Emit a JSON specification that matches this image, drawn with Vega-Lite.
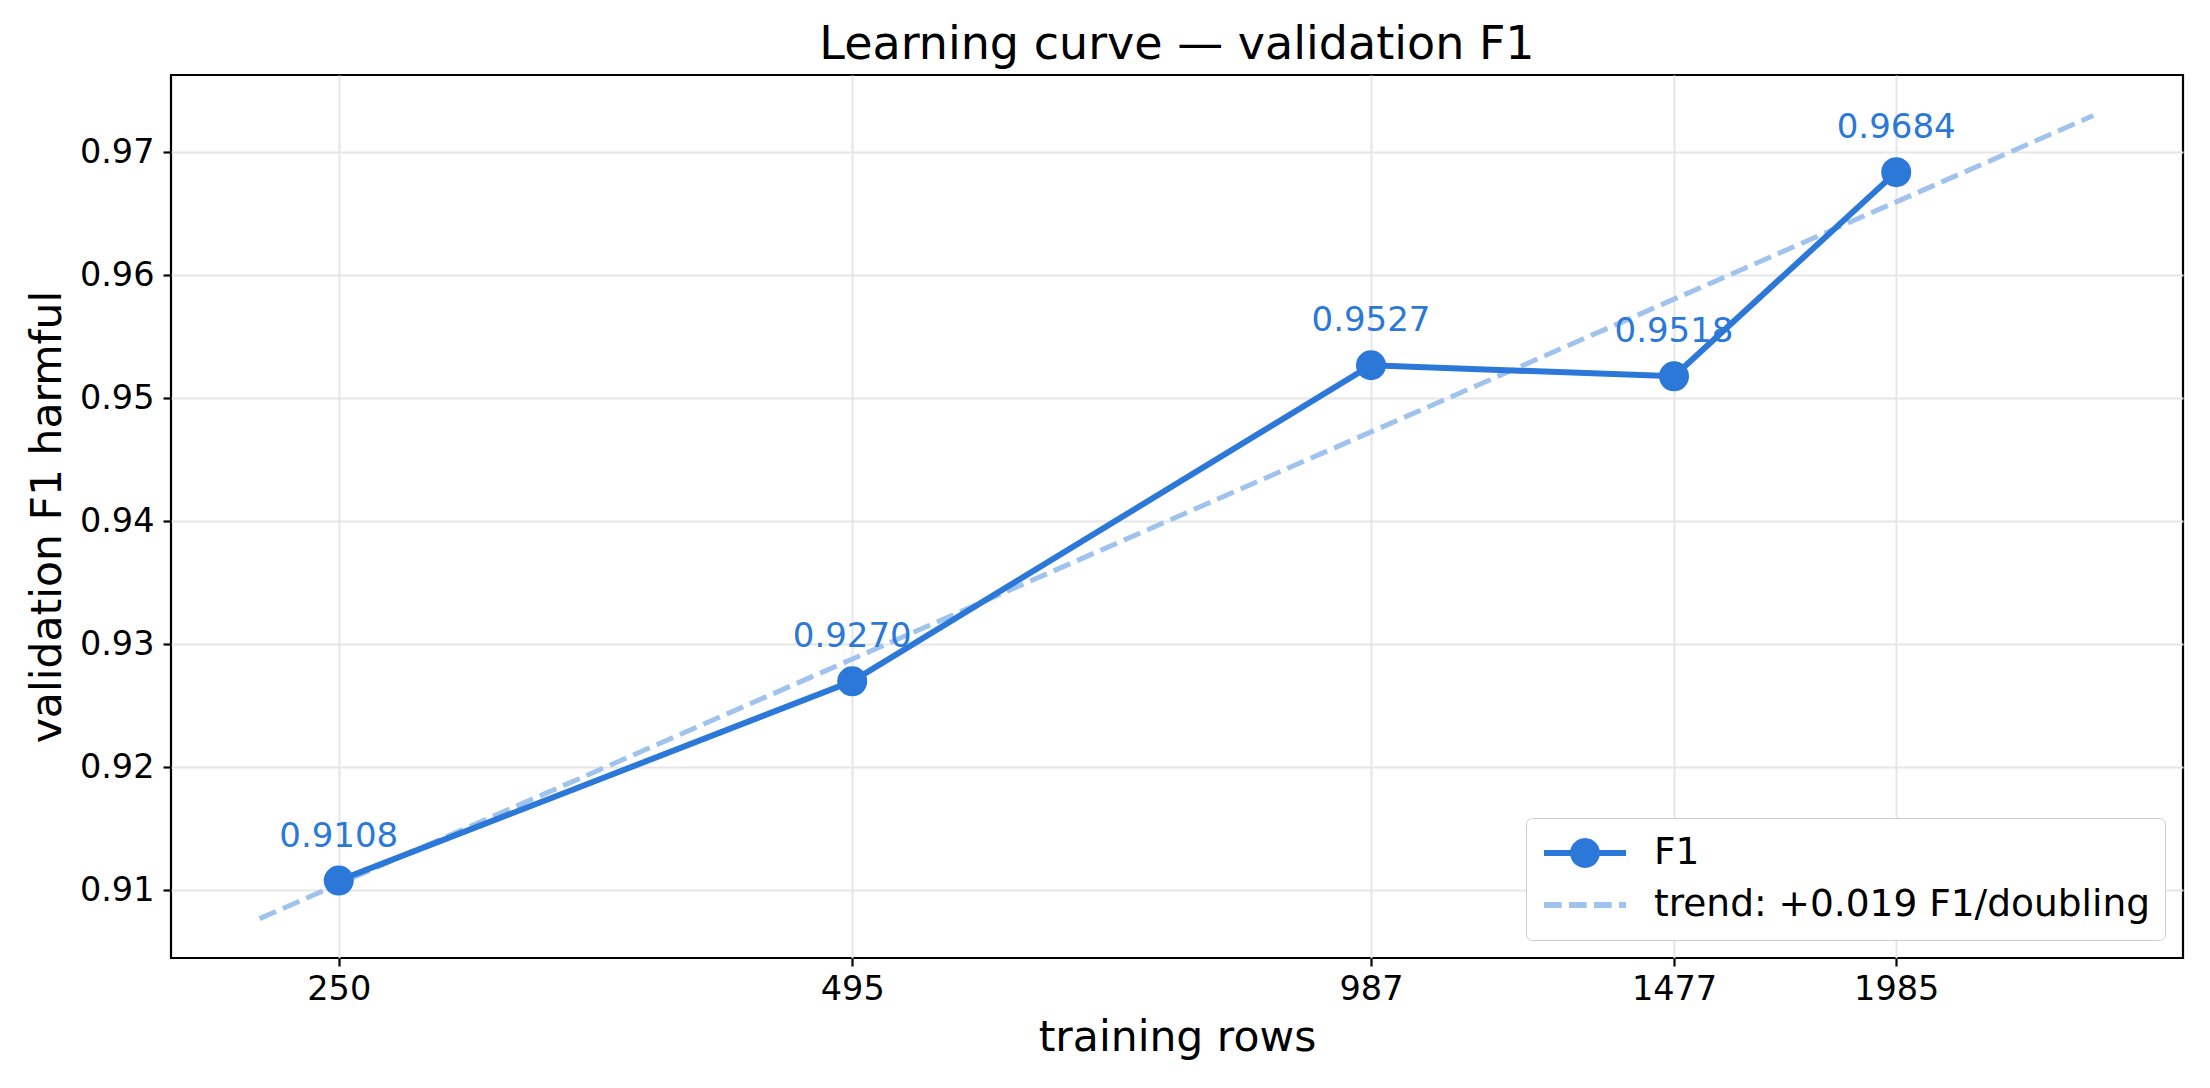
{
  "$schema": "https://vega.github.io/schema/vega-lite/v6.json",
  "width": 2012,
  "height": 883,
  "autosize": {"type": "none"},
  "padding": {"left": 171, "top": 75, "right": 27, "bottom": 130},
  "background": "white",
  "title": {
    "text": "Learning curve — validation F1",
    "fontSize": 46,
    "font": "DejaVu Sans",
    "fontWeight": "normal",
    "color": "black",
    "anchor": "middle",
    "offset": 6
  },
  "config": {
    "font": "DejaVu Sans",
    "view": {"stroke": "black", "strokeWidth": 2.2},
    "axis": {
      "domain": false,
      "grid": true,
      "gridColor": "#e6e6e6",
      "gridWidth": 2,
      "tickColor": "black",
      "tickWidth": 2.2,
      "tickSize": 8,
      "labelFont": "DejaVu Sans",
      "labelFontSize": 33.5,
      "labelColor": "black",
      "titleFont": "DejaVu Sans",
      "titleFontSize": 42.5,
      "titleFontWeight": "normal",
      "titleColor": "black"
    }
  },
  "datasets": {
    "f1": [
      {"rows": 250, "f1": 0.9108, "series": "F1"},
      {"rows": 495, "f1": 0.9270, "series": "F1"},
      {"rows": 987, "f1": 0.9527, "series": "F1"},
      {"rows": 1477, "f1": 0.9518, "series": "F1"},
      {"rows": 1985, "f1": 0.9684, "series": "F1"}
    ],
    "trend": [
      {"rows": 225, "f1": 0.9077, "series": "trend: +0.019 F1/doubling"},
      {"rows": 2580, "f1": 0.9730, "series": "trend: +0.019 F1/doubling"}
    ]
  },
  "encoding": {
    "x": {
      "field": "rows",
      "type": "quantitative",
      "scale": {"type": "log", "domain": [200, 2907], "nice": false},
      "axis": {
        "values": [250, 495, 987, 1477, 1985],
        "format": "d",
        "title": "training rows",
        "labelPadding": 7,
        "titlePadding": 11
      }
    },
    "y": {
      "field": "f1",
      "type": "quantitative",
      "scale": {"domain": [0.9045, 0.9763], "nice": false, "zero": false},
      "axis": {
        "values": [0.91, 0.92, 0.93, 0.94, 0.95, 0.96, 0.97],
        "format": ".2f",
        "title": "validation F1 harmful",
        "labelPadding": 9,
        "titlePadding": 10
      }
    }
  },
  "layer": [
    {
      "data": {"name": "trend"},
      "mark": {"type": "line", "strokeWidth": 5, "strokeDash": [18, 7.5]},
      "encoding": {
        "color": {
          "field": "series",
          "type": "nominal",
          "scale": {
            "domain": ["F1", "trend: +0.019 F1/doubling"],
            "range": ["#2b78d8", "#a0c3ed"]
          },
          "legend": {
            "title": null,
            "orient": "bottom-right",
            "offset": 18,
            "labelFont": "DejaVu Sans",
            "labelFontSize": 37.5,
            "labelColor": "black",
            "labelLimit": 2000,
            "padding": 15,
            "rowPadding": 12,
            "clipHeight": 40,
            "strokeColor": "#cccccc",
            "fillColor": "white",
            "cornerRadius": 6,
            "symbolSize": 6724,
            "symbolStrokeWidth": 6,
            "labelOffset": 25,
            "encode": {
              "symbols": {
                "update": {
                  "shape": {"signal": "datum.value === 'F1' ? 'M-1,0H1M0.29,0A0.29,0.29,0,1,1,-0.29,0A0.29,0.29,0,1,1,0.29,0Z' : 'M-1,0H1'"},
                  "fill": {"signal": "datum.value === 'F1' ? '#2b78d8' : 'transparent'"},
                  "stroke": {"signal": "datum.value === 'F1' ? '#2b78d8' : '#a0c3ed'"},
                  "strokeDash": {"signal": "datum.value === 'F1' ? [1, 0] : [17.7, 7.3]"},
                  "opacity": {"value": 1}
                }
              }
            }
          }
        }
      }
    },
    {
      "data": {"name": "f1"},
      "mark": {"type": "line", "strokeWidth": 6},
      "encoding": {
        "color": {"field": "series", "type": "nominal"}
      }
    },
    {
      "data": {"name": "f1"},
      "mark": {"type": "circle", "size": 900, "opacity": 1, "color": "#2b78d8"}
    },
    {
      "data": {"name": "f1"},
      "mark": {
        "type": "text",
        "dy": -34,
        "baseline": "alphabetic",
        "fontSize": 34,
        "font": "DejaVu Sans",
        "color": "#2b78d8"
      },
      "encoding": {
        "text": {"field": "f1", "type": "quantitative", "format": ".4f"}
      }
    }
  ]
}
